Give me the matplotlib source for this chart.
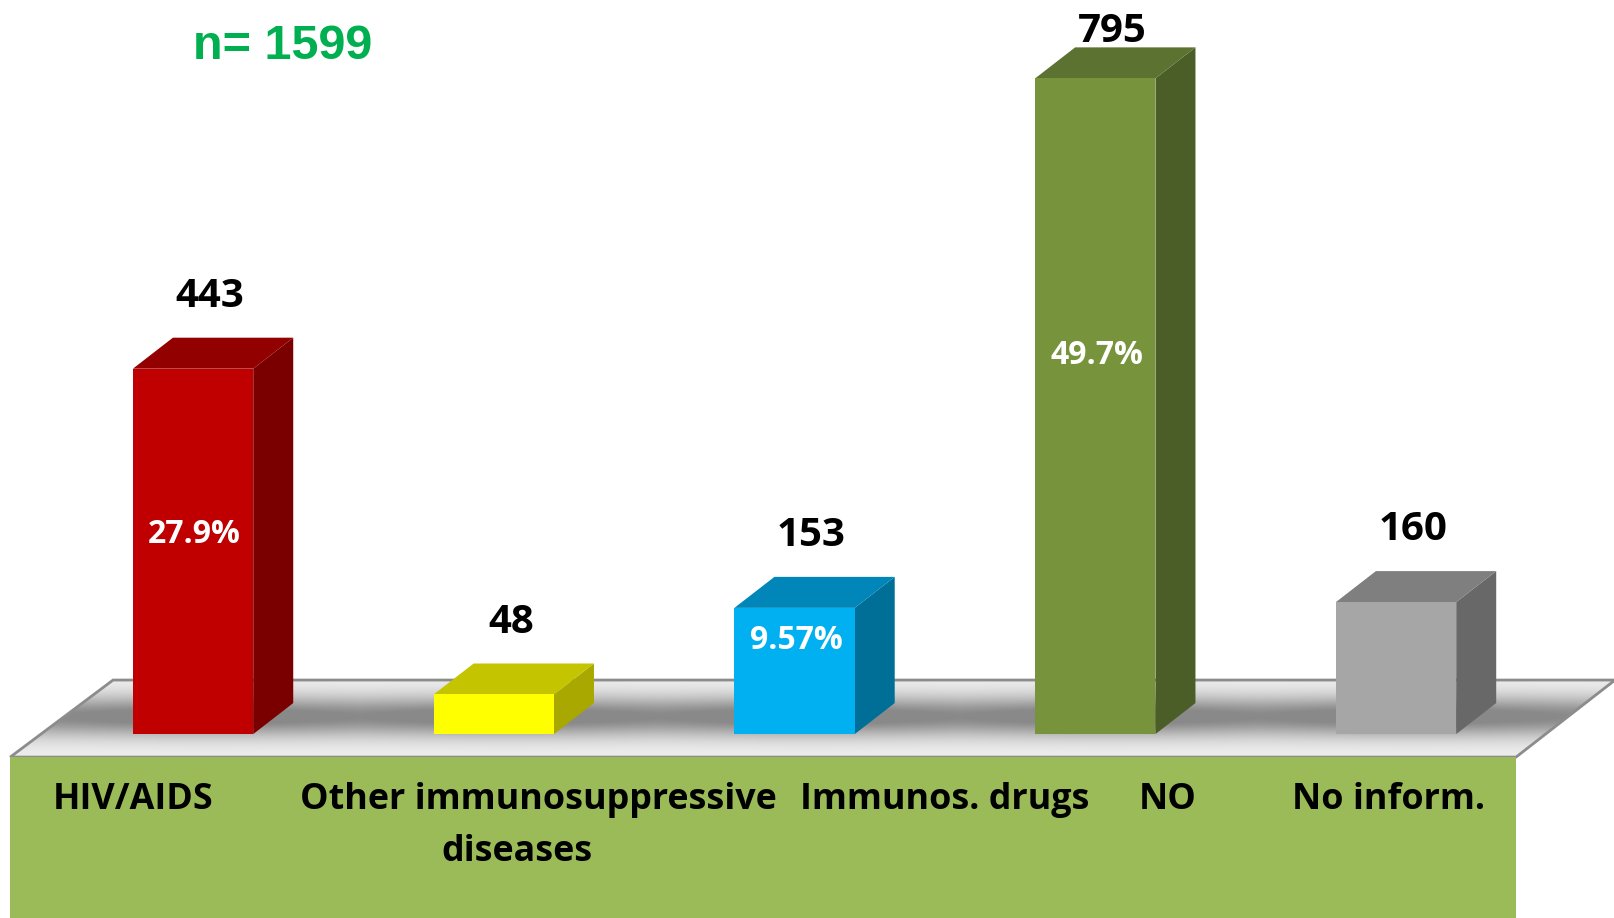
import numpy as np
import matplotlib
matplotlib.use("Agg")
import matplotlib.pyplot as plt
from matplotlib.patches import Polygon, Rectangle

categories = ["HIV/AIDS", "Other immunosuppressive\ndiseases", "Immunos. drugs", "NO", "No inform."]
values = [443, 48, 153, 795, 160]
percent_labels = ["27.9%", None, "9.57%", "49.7%", None]
total_label = "n= 1599"

front_colors = ["#C00000", "#FFFF00", "#00B0F0", "#77933C", "#A6A6A6"]
top_colors = ["#930000", "#C4C400", "#0086B8", "#5B7230", "#7F7F7F"]
side_colors = ["#7A0000", "#A8A800", "#006F98", "#4B5E27", "#686868"]

W, H = 1615, 918
fig = plt.figure(figsize=(W / 100, H / 100), dpi=100)
ax = fig.add_axes([0, 0, 1, 1])
ax.set_xlim(-0.642, 4.728)
ax.set_ylim(-223, 890)
ax.axis("off")

PX = 300.75   # pixels per category unit
PY = 0.825    # pixels per value unit

bw = 0.4
dx, dy = 40 / PX, 31 / PY
FONT = "Open Sans"

# floor
fl = [(-0.608, -27.9), (-0.266, 65.5), (4.728, 65.5), (4.399, -27.9)]
ny, nx = 200, 600
yy = np.linspace(1, 0, ny)[:, None]  # 1 = back edge, 0 = front edge
xx = np.linspace(-0.608, 4.728, nx)[None, :]
prof = np.exp(-((yy - 0.52) / 0.26) ** 2)
hshade = np.zeros_like(xx)
for i in range(len(values)):
    hshade = np.maximum(hshade, np.exp(-((xx - (i + 0.05)) / 0.5) ** 2))
shade = prof * (0.8 + 0.2 * hshade)
shade = np.clip(shade * 1.15, 0, 1)
gray = 0.94 - 0.40 * shade
img = np.dstack([gray, gray, gray])
im = ax.imshow(img, extent=(-0.608, 4.728, -27.9, 65.5), aspect="auto", zorder=1, interpolation="bilinear")
floor_poly = Polygon(fl, closed=True, facecolor="none", edgecolor="#8C8C8C", lw=2, zorder=2)
ax.add_patch(floor_poly)
im.set_clip_path(floor_poly)

# green panel
ax.add_patch(Rectangle((-0.608, -223), 4.399 + 0.608, -27.9 + 223, facecolor="#9BBB59", edgecolor="none", zorder=3))

# bars
for i, v in enumerate(values):
    x0, x1 = i - bw / 2, i + bw / 2
    side = [(x1, 0), (x1 + dx, dy), (x1 + dx, v + dy), (x1, v)]
    top = [(x0, v), (x0 + dx, v + dy), (x1 + dx, v + dy), (x1, v)]
    ax.add_patch(Polygon(side, closed=True, facecolor=side_colors[i], edgecolor="none", zorder=4))
    ax.add_patch(Polygon(top, closed=True, facecolor=top_colors[i], edgecolor="none", zorder=4))
    ax.add_patch(Rectangle((x0, 0), bw, v, facecolor=front_colors[i], edgecolor="none", zorder=5))
    ly = min(v + dy + 50, 852)
    ax.text(i + dx / 2 - 0.01, ly, str(v), ha="center", va="center", fontsize=29, fontweight="bold",
            family=FONT, color="black", zorder=6)

pct_frac = [0.545, None, 0.74, 0.578, None]
for i, (p, f) in enumerate(zip(percent_labels, pct_frac)):
    if p:
        ax.text(i + 0.005, values[i] * f, p, ha="center", va="center", fontsize=23, fontweight="bold",
                family=FONT, color="white", zorder=6)

# category labels
label_x = [133, 538, 945, 1168, 1388]
line_x = {1: [538, 517]}
for j, c in enumerate(categories):
    for k, line in enumerate(c.split("\n")):
        lx = line_x[j][k] if j in line_x else label_x[j]
        ax.text((lx - 193) / PX, (734 - 800 - 52 * k) / PY, line, ha="center", va="center",
                fontsize=25.8, fontweight="bold", family=FONT, color="black", zorder=6)

ax.text((283 - 193) / PX, (734 - 46) / PY, total_label, ha="center", va="center", fontsize=35,
        fontweight="bold", family="Liberation Sans", color="#00B050", zorder=6)

fig.savefig("out.png", dpi=100)
